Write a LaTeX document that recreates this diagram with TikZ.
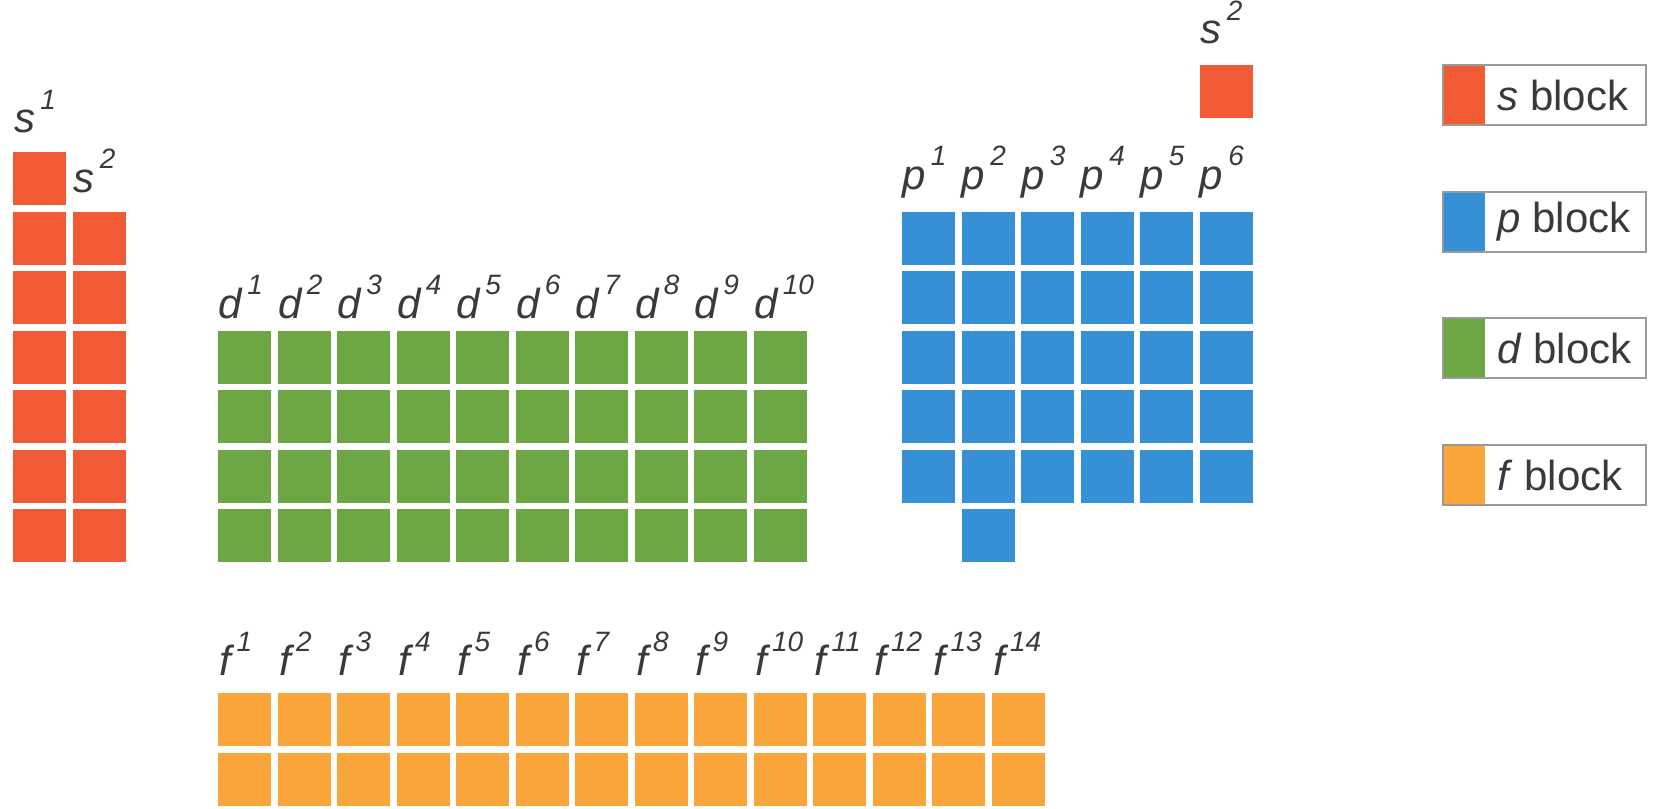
\documentclass[tikz,border=0pt]{standalone}
\usepackage{fontspec}
\setmainfont{Liberation Sans}
\newcommand\shl[1]{\hspace{.12em}\raisebox{.55em}{\fontsize{14}{14}\selectfont\itshape #1}}

\begin{document}
\begin{tikzpicture}[x=.5pt,y=-.5pt,font=\fontsize{21}{25}\selectfont,
  lab/.style={anchor=base west,text=ink,inner sep=0pt,font=\fontsize{21}{25}\selectfont\itshape}]
\definecolor{ink}{HTML}{3A3A3A}\definecolor{frame}{HTML}{9A9A9A}
\definecolor{sblk}{HTML}{F05A35}\definecolor{pblk}{HTML}{3590D6}
\definecolor{dblk}{HTML}{6CA744}\definecolor{fblk}{HTML}{F9A53C}
\useasboundingbox (0,0) rectangle (1653,808);
% s block
\foreach \r in {0,...,6} \fill[sblk] (13,152+59.5*\r) rectangle ++(53,53);
\foreach \r in {1,...,6} \fill[sblk] (72.5,152+59.5*\r) rectangle ++(53,53);
\fill[sblk] (1199.5,65) rectangle ++(53,53);
\node[lab] (ls1) at (14,133) {s\shl{1}};
\node[lab] (ls2) at (73.5,192) {s\shl{2}};
\node[lab] (lhe) at (1200.5,44) {s\shl{2}};
% d block
\foreach \c in {0,...,9} \foreach \r in {0,...,3}
  \fill[dblk] (218+59.5*\c,330.5+59.5*\r) rectangle ++(53,53);
\foreach \i in {1,...,10} \node[lab] (ld\i) at (159+59.5*\i,318) {d\shl{\i}};
% p block
\foreach \c in {0,...,5} \foreach \r in {0,...,4}
  \fill[pblk] (902+59.5*\c,211.5+59.5*\r) rectangle ++(53,53);
\fill[pblk] (961.5,509) rectangle ++(53,53);
\foreach \i in {1,...,6} \node[lab] (lp\i) at (842.5+59.5*\i,189) {p\shl{\i}};
% f block
\foreach \c in {0,...,13} \foreach \r in {0,1}
  \fill[fblk] (218+59.5*\c,693+59.5*\r) rectangle ++(53,53);
\foreach \i in {1,...,14} \node[lab] (lf\i) at (160+59.5*\i,675) {f\shl{\i}};
% key
\foreach \y/\c/\t in {65/sblk/s,192/pblk/p,318/dblk/d,445/fblk/f} {
  \fill[\c] (1443,\y) rectangle ++(42,60);
  \draw[frame,line width=1pt] (1443,\y) rectangle ++(203,60);
  \node[anchor=west,text=ink,inner sep=0pt] (key\t) at (1497,\y+30) {\textit{\t} block};
}
\end{tikzpicture}
\end{document}
